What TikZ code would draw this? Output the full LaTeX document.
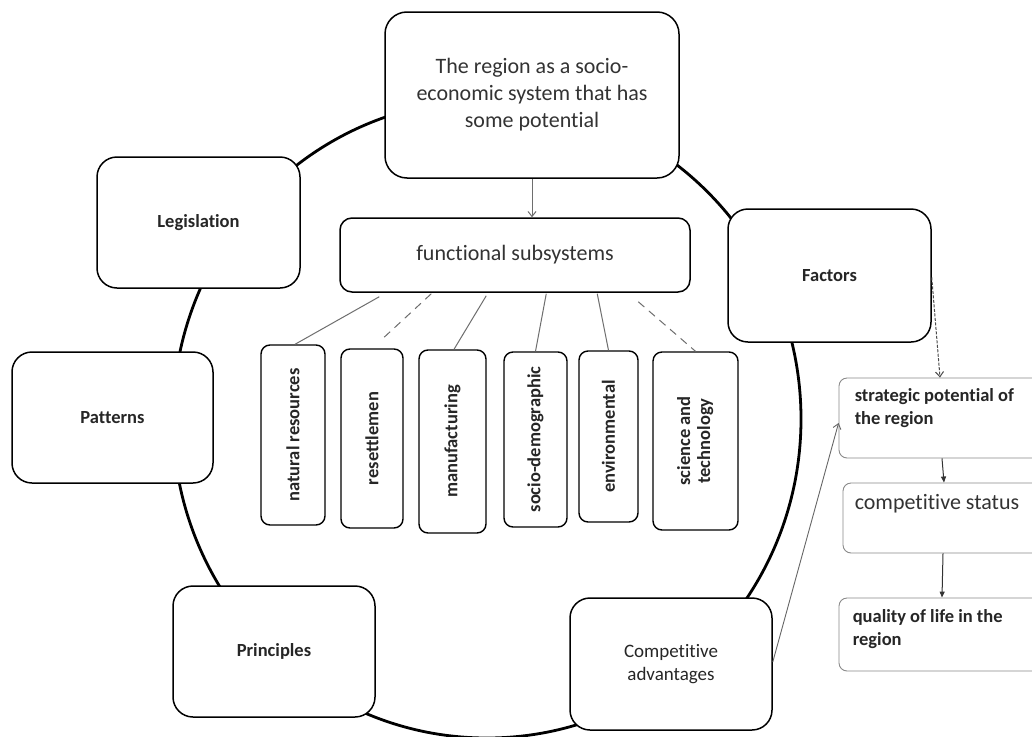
\documentclass[tikz,border=0pt]{standalone}
\usepackage{fontspec}
\setmainfont[Ligatures=NoCommon]{Carlito}
\usetikzlibrary{arrows.meta,calc}
\definecolor{txt}{HTML}{333333}
\definecolor{lnk}{HTML}{6E6E6E}
\definecolor{rbd}{HTML}{8A8A8A}
\tikzset{
  bigbox/.style={draw=black, line width=1.5pt, fill=white, rounded corners=22pt, align=center, text=txt, inner sep=0pt},
  midbox/.style={draw=black, line width=1.5pt, fill=white, rounded corners=12pt, align=center, text=txt, inner sep=0pt},
  vbox/.style={draw=black, line width=1.4pt, fill=white, rounded corners=9pt, align=center, text=black!85, inner sep=0pt, font=\fontsize{18.5}{23}\selectfont\bfseries},
  rbox/.style={draw=rbd, line width=0.9pt, fill=white, rounded corners=8pt, inner sep=0pt},
  rtext/.style={anchor=north west, align=left, inner sep=0pt, text=black!85},
  lbl/.style={font=\fontsize{18.5}{23}\selectfont\bfseries, text=black!85},
  link/.style={draw=lnk, line width=1pt},
  dlink/.style={draw=lnk, line width=1pt, dash pattern=on 8pt off 6pt},
  barb/.style={-{Straight Barb[length=5pt,width=8pt]}},
  fillarr/.style={-{Triangle[length=6pt,width=5pt]}}
}
\begin{document}
\begin{tikzpicture}[x=1pt,y=-1pt]
\clip (0,0) rectangle (1032,736);
\fill[white] (0,0) rectangle (1032,736);

% big ring
\draw[line width=2.8pt, black] (487,419) ellipse [x radius=314, y radius=319];

% central boxes
\node[bigbox, minimum width=294pt, minimum height=166pt, font=\fontsize{22}{27}\selectfont] (top) at (532,95)
  {The region as a socio-\\economic system that has\\some potential};
\node[midbox, minimum width=350pt, minimum height=74pt, font=\fontsize{22}{27}\selectfont] (fs) at (515,255) {functional subsystems};

% ring boxes
\node[bigbox, rounded corners=20pt, minimum width=203pt, minimum height=131pt, lbl] (leg) at (198.5,222.5) {Legislation};
\node[bigbox, rounded corners=20pt, minimum width=201pt, minimum height=131pt, lbl] (pat) at (112.5,417.5) {Patterns};
\node[bigbox, rounded corners=20pt, minimum width=202pt, minimum height=131pt, lbl] (pri) at (274,651.5) {Principles};
\node[bigbox, rounded corners=20pt, minimum width=202pt, minimum height=132pt, font=\fontsize{19}{23}\selectfont, text=black!85] (ca) at (671,664) {Competitive\\advantages};
\node[bigbox, rounded corners=20pt, minimum width=203pt, minimum height=133pt, lbl] (fac) at (829.5,275.5) {Factors};

% vertical subsystem boxes
\node[vbox, minimum width=64pt, minimum height=180pt] (nr) at (293,435) {\rotatebox{90}{natural resources}};
\node[vbox, minimum width=62pt, minimum height=179pt] (rs) at (372,438.5) {\rotatebox{90}{resettlemen}};
\node[vbox, minimum width=67pt, minimum height=183pt] (mf) at (452.5,441.5) {\rotatebox{90}{manufacturing}};
\node[vbox, minimum width=63pt, minimum height=175pt] (sd) at (535.5,439.5) {\rotatebox{90}{socio-demographic}};
\node[vbox, minimum width=59pt, minimum height=171pt] (ev) at (608.5,436.5) {\rotatebox{90}{environmental}};
\node[vbox, minimum width=85pt, minimum height=178pt] (st) at (695.5,441) {\rotatebox{90}{\begin{tabular}{@{}c@{}}science and\\[-3pt]technology\end{tabular}}};

% right column
\node[rbox, minimum width=210pt, minimum height=80pt] (sp) at (944,418) {};
\node[rtext, font=\fontsize{18.5}{23}\selectfont\bfseries] at ([xshift=16pt,yshift=-11pt]sp.north west) {strategic potential of\\the region};
\node[rbox, minimum width=207pt, minimum height=70pt] (cs) at (946.5,518) {};
\node[rtext, font=\fontsize{22}{27}\selectfont, text=txt] at ([xshift=12pt,yshift=-12pt]cs.north west) {competitive status};
\node[rbox, minimum width=211pt, minimum height=73pt] (ql) at (944.5,634.5) {};
\node[rtext, font=\fontsize{18.5}{23}\selectfont\bfseries] at ([xshift=14pt,yshift=-12pt]ql.north west) {quality of life in the\\region};

% connectors
\draw[link, barb] (top.south) -- (top.south |- fs.north);
\draw[link] ([xshift=40pt,yshift=-4pt]fs.south west) -- ([xshift=2pt]nr.north);
\draw[dlink] ([xshift=92pt,yshift=-1pt]fs.south west) -- ([xshift=11pt,yshift=10pt]rs.north);
\draw[link] ([xshift=147pt,yshift=-3pt]fs.south west) -- ([xshift=1.5pt]mf.north);
\draw[link] ([xshift=207pt,yshift=-1pt]fs.south west) -- (sd.north);
\draw[link] ([xshift=258pt,yshift=-1pt]fs.south west) -- (ev.north);
\draw[dlink] ([xshift=299pt,yshift=-9pt]fs.south west) -- (st.north);

\draw[draw=black!70, line width=1pt, dash pattern=on 3pt off 1.5pt, barb] ([yshift=-2pt]fac.east) -- ([xshift=-4pt]sp.north);
\draw[draw=black!60, line width=0.9pt, barb] ([yshift=2pt]ca.east) -- ([yshift=-5pt]sp.west);
\draw[draw=black!80, line width=1pt, fillarr] ([xshift=-2pt]sp.south) -- ([xshift=-2.5pt]cs.north);
\draw[draw=black!80, line width=1pt, fillarr] ([xshift=-3.5pt]cs.south) -- ([xshift=-2.5pt]ql.north);
\end{tikzpicture}
\end{document}
